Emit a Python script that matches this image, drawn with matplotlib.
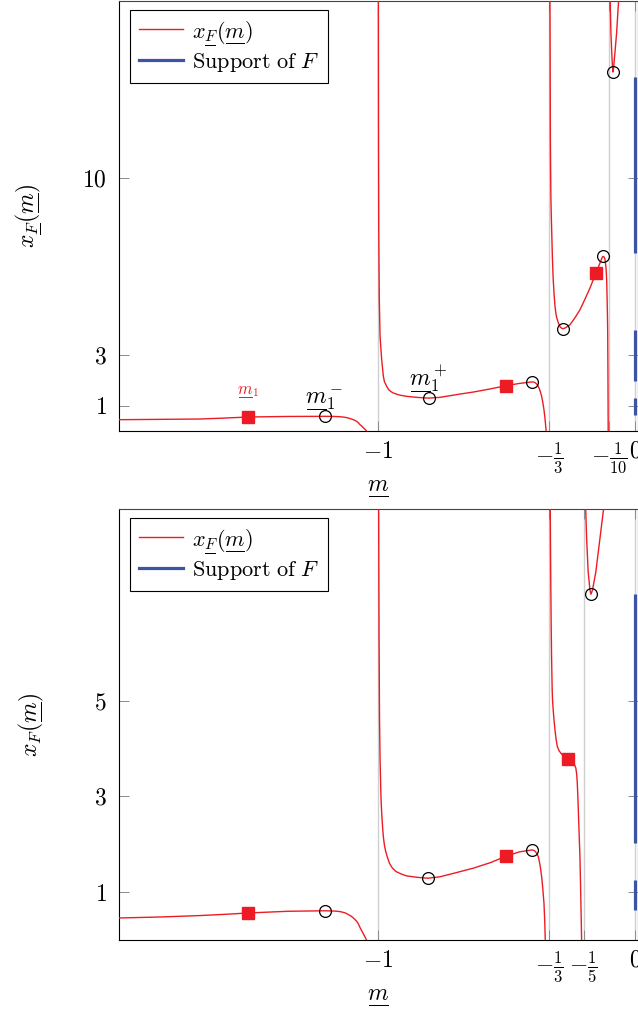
import matplotlib.pyplot as plt
from matplotlib.lines import Line2D
from matplotlib.mathtext import MathTextParser

plt.rcParams['mathtext.fontset'] = 'cm'
plt.rcParams['font.family'] = 'serif'
plt.rcParams['font.serif'] = ['cmr10', 'DejaVu Serif']
plt.rcParams['axes.formatter.use_mathtext'] = True

RED = '#ed1c24'
BLUE = '#3a55a4'
GRID = '#cfcfcf'
TICK = '#8c8c8c'


def _ul_ok():
    try:
        MathTextParser('path').parse(r'$\underset{\overline{\hspace{1.2}}}{m}$')
        return True
    except Exception:
        return False


UL = _ul_ok()


def ul(s, w=1.25):
    # mathtext has no \underline: put a bar of the glyph's width under it
    if UL:
        return r'\underset{\overline{\hspace{%g}}}{%s}' % (w, s)
    return s


# ── top panel (poles at -1, -1/3, -1/10) ─────────────────────────────────────
top_b1_m = [-2.008, -1.85, -1.694, -1.6, -1.506, -1.35, -1.205, -1.17, -1.15,
            -1.137, -1.125, -1.115, -1.105, -1.096, -1.088, -1.08, -1.075,
            -1.07, -1.063, -1.057, -1.05, -1.045, -1.035]
top_b1_x = [0.447, 0.46, 0.474, 0.51, 0.553, 0.575, 0.58, 0.575, 0.565,
            0.553, 0.535, 0.51, 0.48, 0.447, 0.41, 0.36, 0.31,
            0.25, 0.19, 0.13, 0.06, 0.0, -0.3]

top_b2_m = [-0.9987, -0.998, -0.997, -0.995, -0.992, -0.989, -0.9856, -0.982,
            -0.979, -0.975, -0.97, -0.966, -0.958, -0.95, -0.94, -0.92, -0.9,
            -0.888, -0.85, -0.803, -0.759, -0.681, -0.629, -0.56, -0.502,
            -0.45, -0.401, -0.395, -0.39, -0.385, -0.38, -0.376, -0.372,
            -0.368, -0.363, -0.359, -0.354, -0.35, -0.346, -0.342]
top_b2_x = [17.0, 11.3, 7.9, 5.25, 3.75, 3.3, 2.82, 2.45,
            2.16, 1.95, 1.85, 1.76, 1.63, 1.56, 1.50, 1.43, 1.39,
            1.37, 1.33, 1.30, 1.33, 1.46, 1.54, 1.67, 1.79,
            1.88, 1.94, 1.935, 1.92, 1.88, 1.83, 1.76, 1.67,
            1.55, 1.37, 1.16, 0.84, 0.5, 0.05, -0.5]

top_b3_m = [-0.3307, -0.330, -0.329, -0.328, -0.327, -0.3255, -0.324, -0.3225,
            -0.321, -0.318, -0.3145, -0.311, -0.308, -0.305, -0.298, -0.29,
            -0.281, -0.27, -0.253, -0.235, -0.214, -0.195, -0.175, -0.152,
            -0.136, -0.128, -0.1245, -0.121, -0.118, -0.1155, -0.113, -0.1115,
            -0.110, -0.109, -0.108, -0.107, -0.106, -0.105, -0.104, -0.1035]
top_b3_x = [17.0, 15.0, 11.5, 10.2, 9.2, 8.5, 7.96, 7.35,
            6.8, 5.98, 5.4, 4.93, 4.68, 4.5, 4.27, 4.1,
            4.04, 4.08, 4.20, 4.45, 4.79, 5.2, 5.65, 6.24,
            6.64, 6.85, 6.90, 6.89, 6.84, 6.72, 6.5, 6.3,
            5.98, 5.6, 5.1, 4.6, 4.0, 2.3, 0.0, -1.0]

top_b4_m = [-0.0962, -0.0934, -0.0895, -0.0876, -0.0856, -0.0835, -0.079,
            -0.0713, -0.0636]
top_b4_x = [17.0, 15.73, 14.81, 14.45, 14.19, 14.3, 14.81, 15.73, 17.0]

top_sq_m = [-1.506, -0.502, -0.152]
top_sq_x = [0.553, 1.79, 6.24]
top_ci_m = [-1.205, -0.803, -0.401, -0.281, -0.1245, -0.0856]
top_ci_x = [0.58, 1.30, 1.94, 4.04, 6.90, 14.19]
top_supp_lo = [0.64, 1.96, 7.04]
top_supp_hi = [1.30, 4.01, 14.0]
top_yticks = [1, 3, 10]
top_xticks = [-1, -1 / 3, -1 / 10, 0]
top_xticklabels = [r'$-1$', r'$-\frac{1}{3}$', r'$-\frac{1}{10}$', r'$0$']

# ── bottom panel (poles at -1, -1/3, -1/5) ───────────────────────────────────
bot_b1_m = [-2.008, -1.85, -1.694, -1.6, -1.506, -1.35, -1.206, -1.17, -1.15,
            -1.137, -1.125, -1.115, -1.105, -1.096, -1.088, -1.08, -1.075,
            -1.07, -1.063, -1.057, -1.05, -1.045, -1.035]
bot_b1_x = [0.46, 0.48, 0.51, 0.535, 0.564, 0.60, 0.61, 0.605, 0.595,
            0.58, 0.56, 0.53, 0.50, 0.46, 0.42, 0.37, 0.32,
            0.26, 0.19, 0.13, 0.06, 0.0, -0.3]

bot_b2_m = [-0.9974, -0.996, -0.994, -0.992, -0.989, -0.987, -0.985, -0.982,
            -0.979, -0.975, -0.97, -0.963, -0.955, -0.945, -0.93, -0.91,
            -0.89, -0.85, -0.805, -0.759, -0.70, -0.629, -0.56, -0.502,
            -0.45, -0.402, -0.395, -0.39, -0.385, -0.38, -0.376, -0.372,
            -0.368, -0.363, -0.359, -0.354, -0.351, -0.349, -0.346]
bot_b2_x = [9.0, 6.5, 4.6, 3.8, 3.1, 2.8, 2.6, 2.35,
            2.15, 1.98, 1.85, 1.72, 1.6, 1.51, 1.43, 1.38,
            1.34, 1.31, 1.29, 1.32, 1.40, 1.50, 1.62, 1.75,
            1.84, 1.88, 1.875, 1.86, 1.83, 1.79, 1.74, 1.64,
            1.52, 1.32, 1.10, 0.77, 0.4, 0.0, -0.5]

bot_b3_m = [-0.3295, -0.3288, -0.328, -0.327, -0.326, -0.3245, -0.323, -0.322,
            -0.3205, -0.318, -0.315, -0.311, -0.307, -0.302, -0.295, -0.285,
            -0.272, -0.262, -0.25, -0.240, -0.235, -0.23, -0.227, -0.2245,
            -0.222, -0.2195, -0.217, -0.214, -0.212, -0.210, -0.2085, -0.2075,
            -0.206]
bot_b3_x = [9.0, 8.4, 7.8, 7.2, 6.6, 5.95, 5.5, 5.22,
            5.0, 4.80, 4.6, 4.38, 4.2, 4.04, 3.95, 3.88,
            3.82, 3.78, 3.74, 3.70, 3.66, 3.59, 3.48, 3.3,
            2.98, 2.6, 2.2, 1.74, 1.25, 0.70, 0.3, 0.0,
            -0.5]

bot_b4_m = [-0.1915, -0.188, -0.182, -0.175, -0.171, -0.165, -0.152, -0.136,
            -0.122]
bot_b4_x = [9.0, 8.39, 7.69, 7.31, 7.22, 7.31, 7.69, 8.39, 9.0]

bot_sq_m = [-1.506, -0.502, -0.262]
bot_sq_x = [0.564, 1.75, 3.78]
bot_ci_m = [-1.206, -0.805, -0.402, -0.171]
bot_ci_x = [0.61, 1.29, 1.88, 7.22]
bot_supp_lo = [0.63, 2.02]
bot_supp_hi = [1.25, 7.22]
bot_yticks = [1, 3, 5]
bot_xticks = [-1, -1 / 3, -1 / 5, 0]
bot_xticklabels = [r'$-1$', r'$-\frac{1}{3}$', r'$-\frac{1}{5}$', r'$0$']

M_ = ul('m')
F_ = ul('F', 0.95)


def panel(ax, branches, sq, ci, supp, ylim, yticks, xticks, xticklabels, ylabel):
    ax.set_xlim(-2.008, 0.012)
    ax.set_ylim(*ylim)
    for m, x in branches:
        ax.plot(m, x, color=RED, lw=1.0, zorder=3)
    ax.vlines([0] * len(supp[0]), supp[0], supp[1], color=BLUE, lw=2.3, zorder=4)
    ax.plot(sq[0], sq[1], 's', color=RED, ms=8.5, zorder=5)
    ax.plot(ci[0], ci[1], 'o', mfc='none', mec='black', mew=0.9, ms=8.5, zorder=6)

    ax.set_xticks(xticks)
    ax.set_xticklabels(xticklabels)
    ax.set_yticks(yticks)
    ax.set_yticklabels([r'$%d$' % t for t in yticks])
    ax.grid(axis='x', color=GRID, lw=1.0)
    ax.set_axisbelow(True)
    ax.tick_params(direction='in', length=7, width=0.7, color=TICK,
                   labelsize=17, top=True, right=True, pad=7)
    ax.tick_params(axis='y', pad=9)
    for s in ax.spines.values():
        s.set_color('black')
        s.set_linewidth(0.8)
    ax.spines['top'].set_color('#444444')

    ax.set_xlabel(r'$%s$' % M_, fontsize=17)
    ax.xaxis.set_label_coords(0.5, -0.105)
    ax.set_ylabel(ylabel, fontsize=17)
    ax.yaxis.set_label_coords(-0.145, 0.5)

    handles = [Line2D([], [], color=RED, lw=1.0),
               Line2D([], [], color=BLUE, lw=2.3)]
    labels = [r'$x_{%s}(%s)$' % (F_, M_), r'$\mathrm{Support\ of}\ F$']
    leg = ax.legend(handles, labels, loc='upper left',
                    bbox_to_anchor=(0.021, 0.979), borderaxespad=0,
                    fontsize=16, fancybox=False, framealpha=1,
                    edgecolor='black', handlelength=2.0, handletextpad=0.4,
                    labelspacing=0.2, borderpad=0.4)
    leg.get_frame().set_linewidth(0.8)


fig = plt.figure(figsize=(6.38, 10.09), dpi=100)
ax1 = fig.add_axes([119 / 638, 1 - 431 / 1009, 519 / 638, 430 / 1009])
ax2 = fig.add_axes([119 / 638, 1 - 940 / 1009, 519 / 638, 431 / 1009])

panel(ax1,
      [(top_b1_m, top_b1_x), (top_b2_m, top_b2_x),
       (top_b3_m, top_b3_x), (top_b4_m, top_b4_x)],
      (top_sq_m, top_sq_x), (top_ci_m, top_ci_x), (top_supp_lo, top_supp_hi),
      (0, 17), top_yticks, top_xticks, top_xticklabels,
      r'$x_{%s}(%s)$' % (F_, M_))

panel(ax2,
      [(bot_b1_m, bot_b1_x), (bot_b2_m, bot_b2_x),
       (bot_b3_m, bot_b3_x), (bot_b4_m, bot_b4_x)],
      (bot_sq_m, bot_sq_x), (bot_ci_m, bot_ci_x), (bot_supp_lo, bot_supp_hi),
      (0, 9), bot_yticks, bot_xticks, bot_xticklabels,
      r'$x_F(%s)$' % M_)

# labels of the first extrema in the upper panel
ax1.text(-1.506, 1.50, r'$%s_1$' % M_, color=RED, fontsize=12,
         ha='center', va='baseline')
ax1.text(-1.21, 1.17, r'$%s_1^-$' % M_, color='black', fontsize=17,
         ha='center', va='baseline')
ax1.text(-0.805, 1.83, r'$%s_1^+$' % M_, color='black', fontsize=17,
         ha='center', va='baseline')

fig.savefig('out.png', dpi=100)
